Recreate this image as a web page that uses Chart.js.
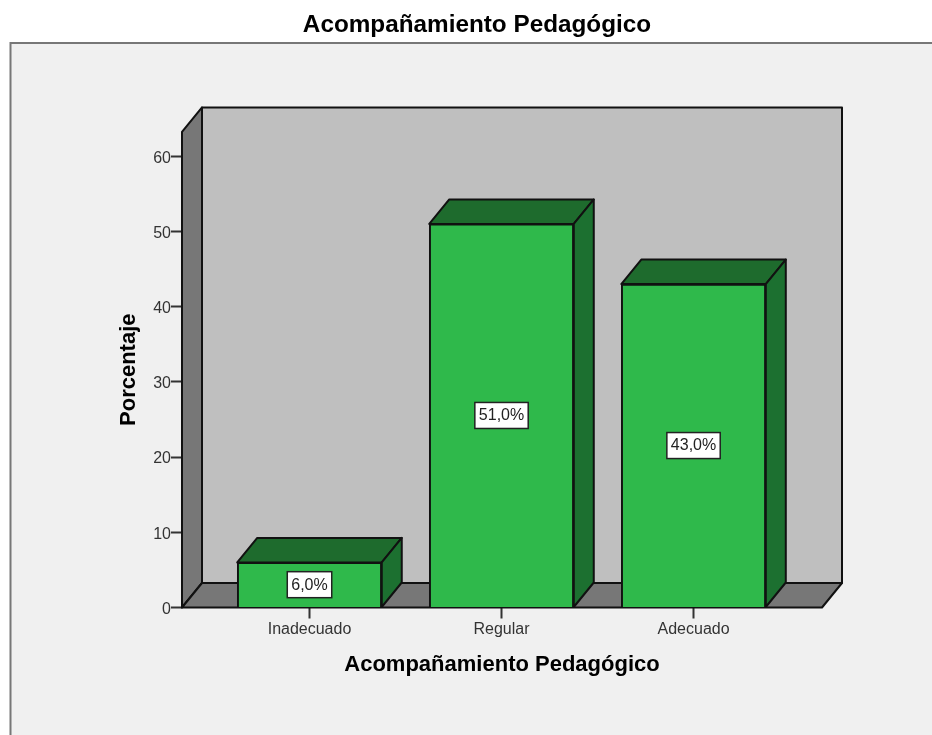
<!DOCTYPE html>
<html>
<head>
<meta charset="utf-8">
<style>
  html, body { margin: 0; background: #fff; }
  canvas { display: block; }
</style>
<script src="https://cdn.jsdelivr.net/npm/chart.js@4"></script>
</head>
<body>
<canvas id="chart" width="932" height="735"></canvas>
<script>
const categories = ['Inadecuado', 'Regular', 'Adecuado'];
const percentages = [6, 51, 43];
const yTicks = [0, 10, 20, 30, 40, 50, 60];
const chartTitle = 'Acompañamiento Pedagógico';
const xTitle = 'Acompañamiento Pedagógico';
const yTitle = 'Porcentaje';

const FONT = '"Liberation Sans", Arial, sans-serif';
const DEPTH_X = 20;
const DEPTH_Y = 24.5;

function poly(ctx, pts, fill) {
  ctx.beginPath();
  pts.forEach((p, i) => (i ? ctx.lineTo(p[0], p[1]) : ctx.moveTo(p[0], p[1])));
  ctx.closePath();
  ctx.fillStyle = fill;
  ctx.fill();
  ctx.lineWidth = 2;
  ctx.strokeStyle = '#111';
  ctx.lineJoin = 'round';
  ctx.stroke();
}

const panel = {
  id: 'panel',
  beforeDraw(chart) {
    const { ctx, width, height } = chart;
    ctx.save();
    ctx.fillStyle = '#f0f0f0';
    ctx.fillRect(10.5, 43, width, height);
    ctx.strokeStyle = '#777';
    ctx.lineWidth = 2;
    ctx.beginPath();
    ctx.moveTo(10.5, height);
    ctx.lineTo(10.5, 43);
    ctx.lineTo(width, 43);
    ctx.stroke();
    ctx.restore();
  }
};

// walls, floor and the top and side faces of the bars
const box3d = {
  id: 'box3d',
  beforeDatasetsDraw(chart) {
    const { ctx, chartArea: a } = chart;
    const dx = DEPTH_X, dy = DEPTH_Y;
    ctx.save();
    poly(ctx, [[a.left + dx, a.top - dy], [a.right + dx, a.top - dy], [a.right + dx, a.bottom - dy], [a.left + dx, a.bottom - dy]], '#bfbfbf');
    poly(ctx, [[a.left, a.bottom], [a.left, a.top], [a.left + dx, a.top - dy], [a.left + dx, a.bottom - dy]], '#777777');
    poly(ctx, [[a.left, a.bottom], [a.left + dx, a.bottom - dy], [a.right + dx, a.bottom - dy], [a.right, a.bottom]], '#777777');
    chart.getDatasetMeta(0).data.forEach((bar) => {
      const l = bar.x - bar.width / 2, r = bar.x + bar.width / 2;
      poly(ctx, [[l, bar.y], [l + dx, bar.y - dy], [r + dx, bar.y - dy], [r, bar.y]], '#1e6b2d');
      poly(ctx, [[r, bar.y], [r + dx, bar.y - dy], [r + dx, bar.base - dy], [r, bar.base]], '#1c7030');
    });
    ctx.restore();
  },
  afterDatasetsDraw(chart) {
    const { ctx } = chart;
    ctx.save();
    ctx.font = '16px ' + FONT;
    ctx.textAlign = 'center';
    ctx.textBaseline = 'middle';
    chart.getDatasetMeta(0).data.forEach((bar, i) => {
      const label = percentages[i].toFixed(1).replace('.', ',') + '%';
      const cy = (bar.y + bar.base) / 2;
      const w = ctx.measureText(label).width + 8;
      ctx.fillStyle = '#fff';
      ctx.fillRect(bar.x - w / 2, cy - 13, w, 26);
      ctx.strokeStyle = '#222';
      ctx.lineWidth = 1.5;
      ctx.strokeRect(bar.x - w / 2, cy - 13, w, 26);
      ctx.fillStyle = '#222';
      ctx.fillText(label, bar.x, cy + 0.5);
    });
    ctx.restore();
  }
};

new Chart(document.getElementById('chart').getContext('2d'), {
  type: 'bar',
  data: {
    datasets: [{
      data: percentages.map((v, i) => ({ x: i, y: v })),
      backgroundColor: '#2fb94b',
      borderColor: '#111',
      borderWidth: 2,
      barThickness: 144.5
    }]
  },
  plugins: [panel, box3d],
  options: {
    responsive: false,
    animation: false,
    layout: { padding: { left: 132, right: 110, top: 0, bottom: 0 } },
    plugins: {
      legend: { display: false },
      tooltip: { enabled: false },
      title: {
        display: true,
        text: chartTitle,
        color: '#000',
        font: { family: FONT, size: 24.3, weight: 'bold', lineHeight: 1.2 },
        padding: { top: 10.4, bottom: 92.4 }
      }
    },
    scales: {
      x: {
        type: 'linear',
        offset: false,
        min: -0.664,
        max: 2.669,
        afterFit(s) { s.height = 127.5; },
        afterBuildTicks(s) { s.ticks = categories.map((c, i) => ({ value: i })); },
        grid: { offset: false, drawOnChartArea: false, tickLength: 11, tickColor: '#333', tickWidth: 2 },
        border: { display: false },
        ticks: {
          color: '#333',
          font: { family: FONT, size: 16 },
          padding: 1,
          maxRotation: 0,
          callback: (v) => categories[v]
        },
        title: {
          display: true,
          text: xTitle,
          color: '#000',
          font: { family: FONT, size: 22, weight: 'bold', lineHeight: 1.2 },
          padding: { top: 0, bottom: 56.8 }
        }
      },
      y: {
        min: 0,
        max: 63.23,
        afterFit(s) { s.width = 50; },
        afterBuildTicks(s) { s.ticks = yTicks.map((v) => ({ value: v })); },
        grid: { drawOnChartArea: false, tickLength: 11, tickColor: '#333', tickWidth: 2 },
        border: { display: false },
        ticks: {
          color: '#333',
          font: { family: FONT, size: 16 },
          padding: 0,
          labelOffset: 2
        },
        title: {
          display: true,
          text: yTitle,
          color: '#000',
          font: { family: FONT, size: 22, weight: 'bold', lineHeight: 1.2 },
          padding: { top: -16.2, bottom: 0 }
        }
      }
    }
  }
});
</script>
</body>
</html>
